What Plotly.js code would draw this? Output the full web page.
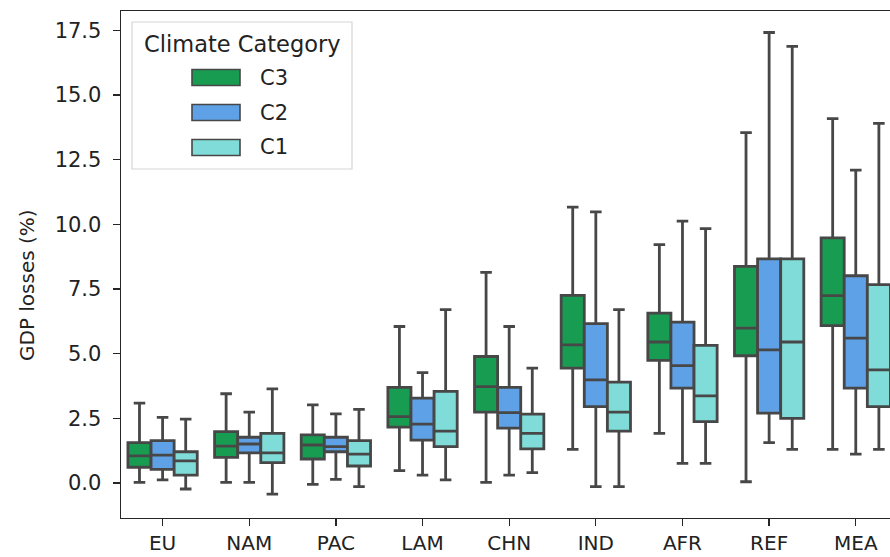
<!DOCTYPE html>
<html>
<head>
<meta charset="utf-8">
<script src="https://cdn.plot.ly/plotly-3.0.1.min.js"></script>
<style>html,body{margin:0;padding:0;background:#fff;}#chart{width:890px;height:557px;}</style>
</head>
<body>
<div id="chart"></div>
<script>
// ---- data ----
const categories = ["EU","NAM","PAC","LAM","CHN","IND","AFR","REF","MEA"];
const seriesNames = ["C3","C2","C1"];
const seriesColors = ["#179c52","#5ea1e6","#7fdcd9"];

const c3Lower  = [0.03, 0.03, -0.05, 0.48, 0.03, 1.30, 1.92, 0.05, 1.30];
const c3Q1     = [0.61, 0.99, 0.93, 2.16, 2.74, 4.44, 4.74, 4.92, 6.08];
const c3Median = [1.05, 1.43, 1.47, 2.57, 3.73, 5.34, 5.45, 5.99, 7.24];
const c3Q3     = [1.56, 1.99, 1.86, 3.70, 4.89, 7.25, 6.57, 8.37, 9.47];
const c3Upper  = [3.09, 3.45, 3.02, 6.05, 8.14, 10.66, 9.21, 13.54, 14.08];

const c2Lower  = [0.12, 0.03, 0.14, 0.31, 0.31, -0.14, 0.76, 1.56, 1.12];
const c2Q1     = [0.53, 1.17, 1.21, 1.66, 2.12, 2.95, 3.67, 2.70, 3.67];
const c2Median = [1.08, 1.51, 1.41, 2.28, 2.72, 3.99, 4.54, 5.15, 5.60];
const c2Q3     = [1.64, 1.77, 1.77, 3.28, 3.70, 6.16, 6.22, 8.66, 8.01];
const c2Upper  = [2.54, 2.74, 2.67, 4.27, 6.05, 10.48, 10.12, 17.41, 12.09];

const c1Lower  = [-0.23, -0.43, -0.14, 0.12, 0.40, -0.14, 0.76, 1.30, 1.30];
const c1Q1     = [0.31, 0.79, 0.66, 1.41, 1.32, 2.01, 2.37, 2.50, 2.95];
const c1Median = [0.86, 1.17, 1.12, 2.01, 1.92, 2.74, 3.37, 5.45, 4.37];
const c1Q3     = [1.21, 1.92, 1.64, 3.54, 2.66, 3.90, 5.32, 8.66, 7.67];
const c1Upper  = [2.47, 3.64, 2.85, 6.70, 4.44, 6.70, 9.83, 16.87, 13.90];

const yTickVals = [0, 2.5, 5, 7.5, 10, 12.5, 15, 17.5];
const yTickText = ["0.0","2.5","5.0","7.5","10.0","12.5","15.0","17.5"];
const yTitle = "GDP losses (%)";
const legendTitle = "Climate Category";

const stats = [
  {lower:c3Lower, q1:c3Q1, median:c3Median, q3:c3Q3, upper:c3Upper},
  {lower:c2Lower, q1:c2Q1, median:c2Median, q3:c2Q3, upper:c2Upper},
  {lower:c1Lower, q1:c1Q1, median:c1Median, q3:c1Q3, upper:c1Upper}
];

// ---- layout constants ----
const W = 890, H = 557;
const M = {l:121, r:0, t:11, b:39};
const PW = W - M.l - M.r, PH = H - M.t - M.b;
const px = v => (v - M.l) / PW;
const py = v => 1 - (v - M.t) / PH;
const lineCol = "#474747";
const font = "DejaVu Sans, Liberation Sans, sans-serif";
const textCol = "#222222";

const traces = stats.map((s, i) => ({
  type: "box",
  name: seriesNames[i],
  x: categories,
  lowerfence: s.lower,
  q1: s.q1,
  median: s.median,
  q3: s.q3,
  upperfence: s.upper,
  boxpoints: false,
  fillcolor: seriesColors[i],
  line: {color: lineCol, width: 2.8},
  whiskerwidth: 0.5,
  showlegend: false,
  hoverinfo: "skip"
}));

// custom legend (matching the matplotlib-style legend box)
const shapes = [{
  type: "rect", xref: "paper", yref: "paper",
  x0: px(132), x1: px(352), y0: py(22), y1: py(169),
  line: {color: "#d6d6d6", width: 1.2}, fillcolor: "rgba(255,255,255,0.85)", layer: "above"
}];
const annotations = [{
  xref: "paper", yref: "paper", x: px(242), y: py(44), xanchor: "center", yanchor: "middle",
  text: legendTitle, showarrow: false, font: {family: font, size: 22.5, color: textCol}
}, {
  xref: "paper", yref: "paper", x: px(27), y: py(285), xanchor: "center", yanchor: "middle",
  text: yTitle, textangle: -90, showarrow: false, font: {family: font, size: 20, color: textCol}
}];
const rowY = [77.5, 112.5, 147.5];
seriesNames.forEach((n, i) => {
  shapes.push({
    type: "rect", xref: "paper", yref: "paper",
    x0: px(192), x1: px(240), y0: py(rowY[i] - 8), y1: py(rowY[i] + 8),
    line: {color: lineCol, width: 1.6}, fillcolor: seriesColors[i], layer: "above"
  });
  annotations.push({
    xref: "paper", yref: "paper", x: px(258), y: py(rowY[i]), xanchor: "left", yanchor: "middle",
    text: n, showarrow: false, font: {family: font, size: 21, color: textCol}
  });
});

const layout = {
  width: W, height: H,
  margin: M,
  paper_bgcolor: "#ffffff", plot_bgcolor: "#ffffff",
  boxmode: "group", boxgap: 0.2, boxgroupgap: 0,
  font: {family: font, size: 21, color: textCol},
  xaxis: {
    type: "category", range: [-0.48, 8.395],
    showgrid: false, zeroline: false,
    showline: true, linecolor: "#262626", linewidth: 1.4, mirror: true,
    ticks: "outside", ticklen: 7, tickwidth: 1.3, tickcolor: "#262626",
    ticklabelstandoff: 0,
    tickfont: {family: font, size: 20, color: textCol},
    fixedrange: true
  },
  yaxis: {
    range: [-1.35, 18.24],
    tickvals: yTickVals, ticktext: yTickText,
    showgrid: false, zeroline: false,
    showline: true, linecolor: "#262626", linewidth: 1.4, mirror: false,
    ticks: "outside", ticklen: 7, tickwidth: 1.3, tickcolor: "#262626",
    ticklabelstandoff: 7,
    tickfont: {family: font, size: 21, color: textCol},
    fixedrange: true
  },
  shapes: shapes,
  annotations: annotations,
  showlegend: false
};

Plotly.newPlot("chart", traces, layout, {staticPlot: true, displayModeBar: false});
</script>
</body>
</html>
